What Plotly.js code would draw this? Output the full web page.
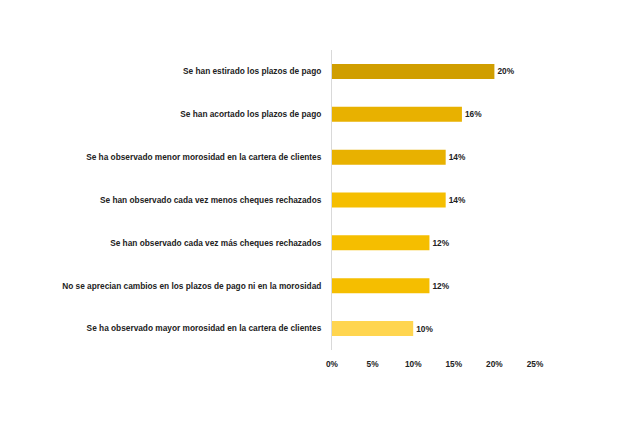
<!DOCTYPE html>
<html>
<head>
<meta charset="utf-8">
<script src="https://cdn.plot.ly/plotly-3.0.1.min.js"></script>
<style>
  body { margin: 0; background: #fff; }
  #chart { width: 640px; height: 426px; }
</style>
</head>
<body>
<div id="chart"></div>
<script>
// categories, top to bottom
let categorias = [
  'Se han estirado los plazos de pago',
  'Se han acortado los plazos de pago',
  'Se ha observado menor morosidad en la cartera de clientes',
  'Se han observado cada vez menos cheques rechazados',
  'Se han observado cada vez más cheques rechazados',
  'No se aprecian cambios en los plazos de pago ni en la morosidad',
  'Se ha observado mayor morosidad en la cartera de clientes'
];
let porcentajes = [20, 16, 14, 14, 12, 12, 10];
let colores = ['#D09E00', '#E8B100', '#E8B100', '#F5BE00', '#F5BE00', '#F5BE00', '#FFD54F'];

let fuente = 'Liberation Sans, Arial, sans-serif';

let trace = {
  type: 'bar',
  orientation: 'h',
  x: porcentajes,
  y: categorias,
  width: 0.35,
  marker: { color: colores },
  text: porcentajes.map(v => '<b>' + v + '%</b>'),
  textposition: 'outside',
  cliponaxis: false,
  textfont: { family: fuente, size: 8.3, color: '#222' },
  hoverinfo: 'x+y'
};

let layout = {
  width: 640,
  height: 426,
  margin: { l: 332, r: 105, t: 50, b: 76 },
  paper_bgcolor: '#fff',
  plot_bgcolor: '#fff',
  showlegend: false,
  xaxis: {
    range: [0, 25],
    dtick: 5,
    ticksuffix: '%',
    showgrid: false,
    zeroline: false,
    showline: false,
    ticks: '',
    ticklabelstandoff: 8,
    tickfont: { family: fuente, size: 8.3, color: '#222', weight: 'bold' },
    fixedrange: true
  },
  yaxis: {
    autorange: 'reversed',
    showline: true,
    linecolor: '#D9D9D9',
    linewidth: 1,
    ticks: '',
    ticklabelstandoff: 8,
    tickfont: { family: fuente, size: 8.3, color: '#222', weight: 'bold' },
    fixedrange: true
  }
};

Plotly.newPlot('chart', [trace], layout, { displayModeBar: false, staticPlot: true });
</script>
</body>
</html>
